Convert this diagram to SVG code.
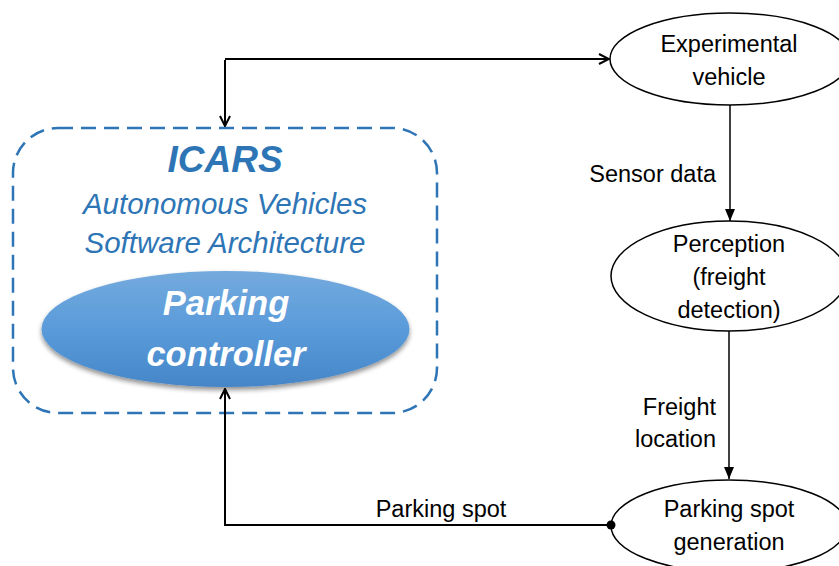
<svg xmlns="http://www.w3.org/2000/svg" width="839" height="566" viewBox="0 0 839 566">
<defs>
<style>
.node{fill:#fff;stroke:#000;stroke-width:1.5}
.lbl{font-family:"Liberation Sans",Arial,sans-serif;font-size:23.5px;fill:#000}
.blue{font-family:"Liberation Sans",Arial,sans-serif;font-style:italic;fill:#2E75B6}
.wht{font-family:"Liberation Sans",Arial,sans-serif;font-style:italic;font-weight:bold;fill:#fff;font-size:34.5px}
.conn{fill:none;stroke:#000;stroke-width:2}
</style>
<linearGradient id="g" x1="0" y1="0" x2="0" y2="1">
<stop offset="0" stop-color="#74AADD"/>
<stop offset="0.5" stop-color="#5A9BDA"/>
<stop offset="1" stop-color="#4586C8"/>
</linearGradient>
<filter id="sh" x="-10%" y="-20%" width="120%" height="150%">
<feGaussianBlur in="SourceAlpha" stdDeviation="2.5"/>
<feOffset dx="0" dy="3"/>
<feComponentTransfer><feFuncA type="linear" slope="0.45"/></feComponentTransfer>
<feMerge><feMergeNode/><feMergeNode in="SourceGraphic"/></feMerge>
</filter>
<marker id="open" viewBox="0 0 12 12" refX="11" refY="6" markerWidth="12" markerHeight="12" markerUnits="userSpaceOnUse" orient="auto">
<path d="M1,1 L11,6 L1,11" fill="none" stroke="#000" stroke-width="2"/>
</marker>
<marker id="fill" viewBox="0 0 12 12" refX="12" refY="6" markerWidth="12" markerHeight="12" markerUnits="userSpaceOnUse" orient="auto">
<path d="M0,1 L12,6 L0,11 Z" fill="#000"/>
</marker>
<marker id="dot" viewBox="0 0 10 10" refX="5" refY="5" markerWidth="10" markerHeight="10" markerUnits="userSpaceOnUse">
<circle cx="5" cy="5" r="4.5" fill="#000"/>
</marker>
</defs>
<rect width="839" height="566" fill="#fff"/>

<g id="icars">
<rect x="13" y="128" width="424" height="285" rx="45" ry="45" fill="none" stroke="#2E75B6" stroke-width="2.5" stroke-dasharray="15 8"/>
<text class="blue" x="225" y="172" text-anchor="middle" font-size="37" font-weight="bold">ICARS</text>
<text class="blue" x="225" y="214" text-anchor="middle" font-size="29.5">Autonomous Vehicles</text>
<text class="blue" x="225" y="253" text-anchor="middle" font-size="29.5">Software Architecture</text>
</g>

<g id="parking-controller">
<ellipse cx="225.5" cy="329" rx="184" ry="58" fill="url(#g)" filter="url(#sh)"/>
<text class="wht" x="226" y="315" text-anchor="middle">Parking</text>
<text class="wht" x="226" y="366" text-anchor="middle">controller</text>
</g>

<g id="experimental-vehicle">
<ellipse class="node" cx="730" cy="59" rx="120" ry="46"/>
<text class="lbl" x="729" y="52" text-anchor="middle">Experimental</text>
<text class="lbl" x="729" y="85" text-anchor="middle">vehicle</text>
</g>

<g id="perception">
<ellipse class="node" cx="729" cy="276" rx="118" ry="55"/>
<text class="lbl" x="729" y="252" text-anchor="middle">Perception</text>
<text class="lbl" x="729" y="285" text-anchor="middle">(freight</text>
<text class="lbl" x="729" y="318" text-anchor="middle">detection)</text>
</g>

<g id="parking-spot-generation">
<ellipse class="node" cx="729" cy="526" rx="118" ry="46"/>
<text class="lbl" x="729" y="517" text-anchor="middle">Parking spot</text>
<text class="lbl" x="729" y="550" text-anchor="middle">generation</text>
</g>

<g id="connectors">
<path class="conn" d="M225,59 L609,59" marker-end="url(#open)"/>
<path class="conn" d="M225,60 L225,126" marker-end="url(#open)"/>
<path d="M730,105 L730,221" stroke="#000" stroke-width="1.5" fill="none" marker-end="url(#fill)"/>
<path d="M729,331 L729,479" stroke="#000" stroke-width="1.5" fill="none" marker-end="url(#fill)"/>
<path class="conn" d="M611,525 L225,525 L225,389" marker-start="url(#dot)" marker-end="url(#open)"/>
<text class="lbl" x="716" y="182" text-anchor="end">Sensor data</text>
<text class="lbl" x="716" y="415" text-anchor="end">Freight</text>
<text class="lbl" x="716" y="447" text-anchor="end">location</text>
<text class="lbl" x="441" y="517" text-anchor="middle">Parking spot</text>
</g>
</svg>
